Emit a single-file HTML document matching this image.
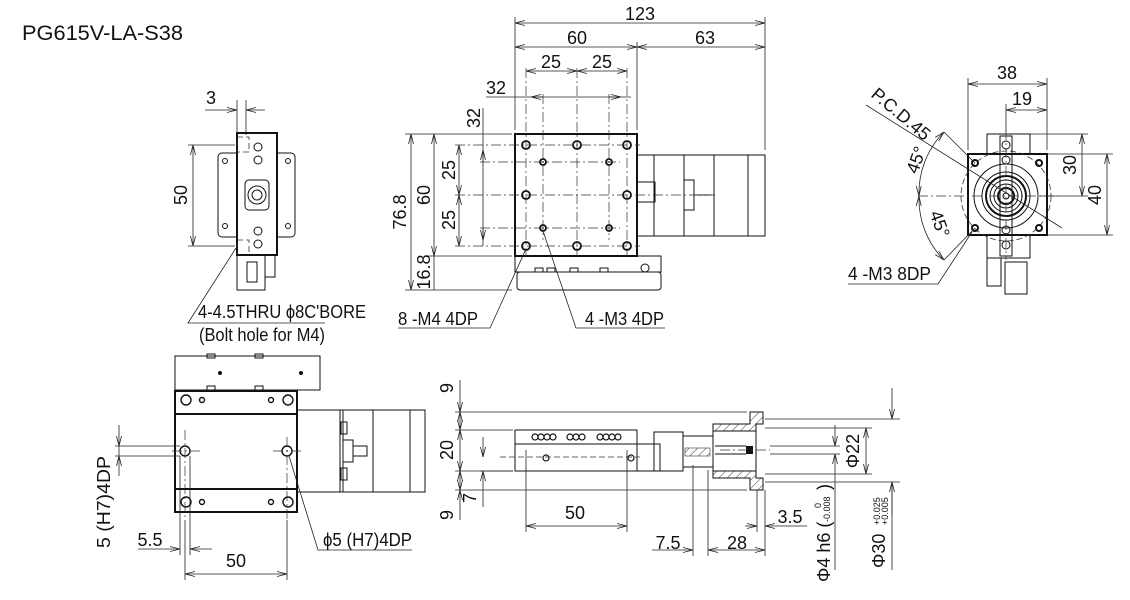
<!DOCTYPE html>
<html><head><meta charset="utf-8"><style>
html,body{margin:0;padding:0;background:#fff}
svg{display:block}
text{font-family:"Liberation Sans Narrow","Liberation Sans",sans-serif;font-size:18px;fill:#111}
.t{font-family:"Liberation Sans","DejaVu Sans",sans-serif;font-size:21px}
.k{stroke:#111;fill:none;stroke-width:1}
.b{stroke:#111;fill:none;stroke-width:2}
.d{stroke:#222;fill:none;stroke-width:.8}
.c{stroke:#333;fill:none;stroke-width:.7;stroke-dasharray:10 3 2 3}
.h{stroke:#333;fill:none;stroke-width:.8;stroke-dasharray:6 3}
</style></head><body>
<svg width="1130" height="600" viewBox="0 0 1130 600" xmlns="http://www.w3.org/2000/svg">
<defs>
<marker id="a" markerWidth="10" markerHeight="6" refX="10" refY="3" orient="auto-start-reverse" markerUnits="userSpaceOnUse"><path d="M0,0.5 L10,3 L0,5.5" fill="none" stroke="#222" stroke-width="0.8"/></marker>
<pattern id="hp" width="6" height="6" patternUnits="userSpaceOnUse" patternTransform="rotate(45)"><line x1="0" y1="0" x2="0" y2="6" stroke="#333" stroke-width="1"/></pattern>
</defs>
<text class="t" x="22" y="40" textLength="161" lengthAdjust="spacingAndGlyphs">PG615V-LA-S38</text>

<!-- ===== TOP MAIN VIEW ===== -->
<rect x="515" y="134" width="122" height="122" class="b"/>
<rect x="637" y="155" width="128" height="81" class="k"/>
<line x1="654" y1="155" x2="654" y2="236" class="k"/>
<line x1="684" y1="155" x2="684" y2="236" class="k"/>
<line x1="714" y1="155" x2="714" y2="236" class="k"/>
<line x1="748" y1="155" x2="748" y2="236" class="k"/>
<rect x="637" y="182" width="18" height="20" class="k"/>
<rect x="684" y="180" width="10" height="30" class="k"/>
<line x1="694" y1="195" x2="712" y2="195" class="k"/>
<rect x="515" y="256" width="146" height="16" class="k"/>
<rect x="517" y="272" width="144" height="18" rx="3" class="k"/>
<rect x="535" y="268" width="8" height="4" class="k"/><rect x="547" y="268" width="8" height="4" class="k"/><rect x="570" y="268" width="8" height="4" class="k"/><rect x="600" y="268" width="8" height="4" class="k"/>
<circle cx="645" cy="268" r="4" class="k"/>
<g fill="none" stroke="#111" stroke-width="1.8">
<circle cx="526" cy="145" r="4"/><circle cx="577" cy="145" r="4"/><circle cx="627" cy="145" r="4"/>
<circle cx="526" cy="195" r="4"/><circle cx="627" cy="195" r="4"/>
<circle cx="526" cy="246" r="4"/><circle cx="577" cy="246" r="4"/><circle cx="627" cy="246" r="4"/>
<circle cx="543" cy="162" r="3"/><circle cx="609" cy="162" r="3"/><circle cx="543" cy="228" r="3"/><circle cx="609" cy="228" r="3"/>
</g>
<g class="c">
<line x1="526" y1="68" x2="526" y2="256"/><line x1="577" y1="68" x2="577" y2="256"/><line x1="627" y1="68" x2="627" y2="256"/>
<line x1="543" y1="94" x2="543" y2="240"/><line x1="609" y1="94" x2="609" y2="240"/>
<line x1="455" y1="145" x2="640" y2="145"/><line x1="455" y1="195" x2="715" y2="195"/><line x1="455" y1="246" x2="640" y2="246"/>
<line x1="480" y1="162" x2="620" y2="162"/><line x1="480" y1="228" x2="620" y2="228"/>
</g>
<g class="d">
<line x1="515" y1="17" x2="515" y2="130"/><line x1="765" y1="17" x2="765" y2="150"/><line x1="637" y1="42" x2="637" y2="130"/>
<line x1="515" y1="23" x2="765" y2="23" marker-start="url(#a)" marker-end="url(#a)"/>
<line x1="515" y1="47" x2="637" y2="47" marker-start="url(#a)" marker-end="url(#a)"/>
<line x1="637" y1="47" x2="765" y2="47" marker-start="url(#a)" marker-end="url(#a)"/>
<line x1="526" y1="71" x2="577" y2="71" marker-start="url(#a)" marker-end="url(#a)"/>
<line x1="577" y1="71" x2="627" y2="71" marker-start="url(#a)" marker-end="url(#a)"/>
<line x1="486" y1="97" x2="631" y2="97"/>
<line x1="543" y1="97" x2="531" y2="97" marker-end="url(#a)"/>
<line x1="609" y1="97" x2="621" y2="97" marker-end="url(#a)"/>
<line x1="405" y1="134" x2="512" y2="134"/><line x1="405" y1="290" x2="512" y2="290"/><line x1="428" y1="256" x2="512" y2="256"/>
<line x1="411" y1="134" x2="411" y2="290" marker-start="url(#a)" marker-end="url(#a)"/>
<line x1="434" y1="134" x2="434" y2="256" marker-start="url(#a)" marker-end="url(#a)"/>
<line x1="434" y1="256" x2="434" y2="290"/>
<line x1="459" y1="145" x2="459" y2="195" marker-start="url(#a)" marker-end="url(#a)"/>
<line x1="459" y1="195" x2="459" y2="246" marker-start="url(#a)" marker-end="url(#a)"/>
<line x1="483" y1="108" x2="483" y2="246"/>
<line x1="483" y1="162" x2="483" y2="150" marker-end="url(#a)"/>
<line x1="483" y1="228" x2="483" y2="240" marker-end="url(#a)"/>
<polyline points="526,249 490,328 398,328"/>
<polyline points="543,231 576,328 665,328"/>
</g>
<text x="640" y="20" text-anchor="middle">123</text>
<text x="577" y="44" text-anchor="middle">60</text>
<text x="705" y="44" text-anchor="middle">63</text>
<text x="551" y="68" text-anchor="middle">25</text>
<text x="602" y="68" text-anchor="middle">25</text>
<text x="496" y="94" text-anchor="middle">32</text>
<text transform="translate(480,118) rotate(-90)" text-anchor="middle">32</text>
<text transform="translate(406,212) rotate(-90)" text-anchor="middle">76.8</text>
<text transform="translate(430,195) rotate(-90)" text-anchor="middle">60</text>
<text transform="translate(455,170) rotate(-90)" text-anchor="middle">25</text>
<text transform="translate(455,220) rotate(-90)" text-anchor="middle">25</text>
<text transform="translate(430,272) rotate(-90)" text-anchor="middle">16.8</text>
<text x="398" y="325" textLength="80" lengthAdjust="spacingAndGlyphs">8 -M4 4DP</text>
<text x="585" y="325" textLength="79" lengthAdjust="spacingAndGlyphs">4 -M3 4DP</text>

<!-- ===== LEFT SIDE VIEW ===== -->
<rect x="218" y="153" width="77" height="84" rx="4" class="k"/>
<circle cx="225" cy="161" r="2.5" class="k"/><circle cx="288" cy="161" r="2.5" class="k"/><circle cx="225" cy="226" r="2.5" class="k"/><circle cx="288" cy="226" r="2.5" class="k"/>
<rect x="237" y="133" width="40" height="122" class="b" style="fill:#fff"/>
<rect x="245" y="180" width="24" height="30" rx="4" class="k"/>
<circle cx="257" cy="195" r="9" class="k"/><circle cx="257" cy="195" r="5" class="k"/>
<rect x="237" y="137" width="12" height="15" class="h"/><rect x="237" y="240" width="12" height="15" class="h"/>
<circle cx="258" cy="147" r="4" class="k"/><circle cx="258" cy="160" r="4" class="k"/><circle cx="258" cy="231" r="4" class="k"/><circle cx="258" cy="244" r="4" class="k"/>
<rect x="237" y="255" width="28" height="35" class="k"/><rect x="265" y="255" width="10" height="22" class="k"/>
<rect x="247" y="262" width="10" height="20" class="k"/>
<g class="d">
<line x1="237" y1="100" x2="237" y2="133"/><line x1="246" y1="100" x2="246" y2="135"/>
<line x1="205" y1="110" x2="237" y2="110" marker-end="url(#a)"/>
<line x1="265" y1="110" x2="246" y2="110" marker-end="url(#a)"/>
<line x1="188" y1="145" x2="235" y2="145"/><line x1="188" y1="246" x2="235" y2="246"/>
<line x1="193" y1="145" x2="193" y2="246" marker-start="url(#a)" marker-end="url(#a)"/>
<polyline points="236,248 188,323 325,323"/>
</g>
<text x="211" y="104" text-anchor="middle">3</text>
<text transform="translate(187,195) rotate(-90)" text-anchor="middle">50</text>
<text x="198" y="318" textLength="168" lengthAdjust="spacingAndGlyphs">4-4.5THRU ϕ8C'BORE</text>
<text x="199" y="341" textLength="126" lengthAdjust="spacingAndGlyphs">(Bolt hole for M4)</text>

<!-- ===== RIGHT END VIEW ===== -->
<rect x="987" y="134" width="43" height="124" class="k"/>
<rect x="968" y="154" width="79" height="81" class="b" style="fill:#fff"/>
<circle cx="1006" cy="196" r="45" class="h"/>
<circle cx="1006" cy="196" r="32" class="k"/>
<circle cx="1006" cy="196" r="24" class="k"/>
<circle cx="1006" cy="196" r="20" class="b"/>
<circle cx="1006" cy="196" r="16" class="k"/><circle cx="1006" cy="196" r="12" class="k"/><circle cx="1006" cy="196" r="8" class="b"/><circle cx="1006" cy="196" r="3" class="k"/>
<rect x="1000" y="136" width="12" height="120" class="k" style="fill:none"/>
<circle cx="1006" cy="145" r="4" class="k"/><circle cx="1006" cy="160" r="4" class="k"/><circle cx="1006" cy="230" r="4" class="k"/><circle cx="1006" cy="245" r="4" class="k"/>
<circle cx="975" cy="163" r="3" class="b"/><circle cx="1039" cy="163" r="3" class="b"/><circle cx="975" cy="228" r="3" class="b"/><circle cx="1039" cy="228" r="3" class="b"/>
<rect x="987" y="258" width="14" height="28" class="k"/><rect x="1005" y="262" width="22" height="32" class="k"/>
<g class="c"><line x1="918" y1="196" x2="1058" y2="196"/><line x1="1006" y1="130" x2="1006" y2="260"/></g>
<g class="d">
<line x1="968" y1="78" x2="968" y2="150"/><line x1="1047" y1="78" x2="1047" y2="150"/><line x1="1006" y1="104" x2="1006" y2="132"/>
<line x1="968" y1="84" x2="1047" y2="84" marker-start="url(#a)" marker-end="url(#a)"/>
<line x1="1006" y1="110" x2="1047" y2="110" marker-start="url(#a)" marker-end="url(#a)"/>
<line x1="1030" y1="134" x2="1088" y2="134"/><line x1="1040" y1="196" x2="1088" y2="196"/>
<line x1="1047" y1="154" x2="1113" y2="154"/><line x1="1047" y1="235" x2="1113" y2="235"/>
<line x1="1082" y1="134" x2="1082" y2="196" marker-start="url(#a)" marker-end="url(#a)"/>
<line x1="1107" y1="154" x2="1107" y2="235" marker-start="url(#a)" marker-end="url(#a)"/>
<line x1="866" y1="105" x2="1062" y2="228"/>
<path d="M944,132 A87,87 0 0,0 919,196" marker-start="url(#a)" marker-end="url(#a)"/>
<path d="M919,196 A87,87 0 0,0 944,260" marker-start="url(#a)" marker-end="url(#a)"/>
<line x1="944" y1="132" x2="975" y2="163"/><line x1="944" y1="260" x2="975" y2="228"/>
<polyline points="972,232 938,284 848,284"/>
</g>
<text x="1007" y="79" text-anchor="middle">38</text>
<text x="1022" y="105" text-anchor="middle">19</text>
<text transform="translate(1076,165) rotate(-90)" text-anchor="middle">30</text>
<text transform="translate(1101,195) rotate(-90)" text-anchor="middle">40</text>
<text transform="translate(870,96) rotate(40)">P.C.D.45</text>
<text transform="translate(922,162) rotate(-70)" text-anchor="middle">45°</text>
<text transform="translate(934,226) rotate(70)" text-anchor="middle">45°</text>
<text x="848" y="280" textLength="83" lengthAdjust="spacingAndGlyphs">4 -M3 8DP</text>

<!-- ===== BOTTOM LEFT VIEW ===== -->
<rect x="175" y="356" width="145" height="34" class="k"/>
<rect x="207" y="354" width="8" height="4" class="k"/><rect x="255" y="354" width="8" height="4" class="k"/><rect x="207" y="386" width="8" height="4" class="k"/><rect x="255" y="386" width="8" height="4" class="k"/>
<circle cx="220" cy="373" r="2" fill="#111"/><circle cx="301" cy="373" r="2" fill="#111"/>
<rect x="297" y="410" width="128" height="82" class="k"/>
<line x1="340" y1="410" x2="340" y2="492" class="k"/><line x1="343" y1="410" x2="343" y2="492" class="k"/>
<line x1="373" y1="410" x2="373" y2="492" class="k"/><line x1="410" y1="410" x2="410" y2="492" class="k"/>
<rect x="341" y="422" width="6" height="12" class="k"/><rect x="341" y="468" width="6" height="12" class="k"/>
<rect x="343" y="440" width="10" height="22" class="k"/><rect x="353" y="446" width="14" height="10" class="k"/>
<rect x="175" y="391" width="122" height="121" class="b"/>
<line x1="175" y1="414" x2="297" y2="414" class="b"/><line x1="175" y1="489" x2="297" y2="489" class="b"/>
<g fill="none" stroke="#111" stroke-width="1.4">
<circle cx="186" cy="400" r="5"/><circle cx="288" cy="400" r="5"/><circle cx="186" cy="502" r="5"/><circle cx="288" cy="502" r="5"/>
<circle cx="202" cy="400" r="2.5"/><circle cx="271" cy="400" r="2.5"/><circle cx="202" cy="502" r="2.5"/><circle cx="271" cy="502" r="2.5"/>
<circle cx="185" cy="451" r="5"/><circle cx="287" cy="451" r="5"/>
</g>
<g class="c"><line x1="172" y1="451" x2="200" y2="451"/><line x1="273" y1="451" x2="302" y2="451"/><line x1="185" y1="430" x2="185" y2="520"/><line x1="287" y1="437" x2="287" y2="520"/></g>
<g class="d">
<line x1="115" y1="446" x2="180" y2="446"/><line x1="115" y1="456" x2="180" y2="456"/>
<line x1="119" y1="425" x2="119" y2="446" marker-end="url(#a)"/>
<line x1="119" y1="476" x2="119" y2="456" marker-end="url(#a)"/>
<line x1="119" y1="446" x2="119" y2="456"/>
<line x1="180" y1="456" x2="180" y2="555"/><line x1="190" y1="456" x2="190" y2="555"/>
<line x1="138" y1="549" x2="180" y2="549" marker-end="url(#a)"/>
<line x1="212" y1="549" x2="190" y2="549" marker-end="url(#a)"/>
<line x1="185" y1="520" x2="185" y2="580"/><line x1="287" y1="520" x2="287" y2="580"/>
<line x1="185" y1="574" x2="287" y2="574" marker-start="url(#a)" marker-end="url(#a)"/>
<polyline points="289,456 318,550 412,550"/>
</g>
<text transform="translate(110,502) rotate(-90)" text-anchor="middle" textLength="92" lengthAdjust="spacingAndGlyphs">5 (H7)4DP</text>
<text x="150" y="546" text-anchor="middle">5.5</text>
<text x="236" y="567" text-anchor="middle">50</text>
<text x="323" y="546" textLength="89" lengthAdjust="spacingAndGlyphs">ϕ5 (H7)4DP</text>

<!-- ===== BOTTOM MIDDLE VIEW ===== -->
<rect x="515" y="430" width="122" height="41" class="k"/>
<line x1="515" y1="444" x2="660" y2="444" class="k"/>
<rect x="637" y="444" width="23" height="27" class="k"/>
<rect x="654" y="432" width="29" height="39" class="k"/>
<g fill="none" stroke="#111" stroke-width="1.2">
<circle cx="535" cy="437" r="3"/><circle cx="541" cy="437" r="3"/><circle cx="547" cy="437" r="3"/><circle cx="553" cy="437" r="3"/>
<circle cx="570" cy="437" r="3"/><circle cx="576" cy="437" r="3"/><circle cx="582" cy="437" r="3"/>
<circle cx="600" cy="437" r="3"/><circle cx="606" cy="437" r="3"/><circle cx="612" cy="437" r="3"/><circle cx="618" cy="437" r="3"/>
<circle cx="546" cy="458" r="3"/><circle cx="631" cy="458" r="3"/>
</g>
<line x1="500" y1="457" x2="640" y2="457" class="h"/>
<rect x="683" y="436" width="30" height="31" class="k"/>
<rect x="685" y="448" width="25" height="8" fill="url(#hp)" stroke="#333" stroke-width=".6"/>
<path d="M750,412 H763 V424 H756 V478 H763 V490 H750 V478 H713 V424 H750 Z" fill="url(#hp)" stroke="#111" stroke-width="1"/>
<rect x="713" y="431" width="43" height="40" fill="#fff" stroke="#111" stroke-width="1"/>
<rect x="746" y="446" width="7" height="8" fill="#111"/>
<line x1="715" y1="446" x2="746" y2="446" class="k"/><line x1="715" y1="454" x2="746" y2="454" class="k"/>
<line x1="720" y1="450" x2="770" y2="450" class="c"/>
<g class="d">
<line x1="455" y1="412" x2="747" y2="412"/><line x1="455" y1="430" x2="513" y2="430"/><line x1="455" y1="471" x2="513" y2="471"/><line x1="455" y1="490" x2="747" y2="490"/>
<line x1="460" y1="380" x2="460" y2="412" marker-end="url(#a)"/>
<line x1="460" y1="412" x2="460" y2="430" marker-start="url(#a)" marker-end="url(#a)"/>
<line x1="460" y1="430" x2="460" y2="471" marker-start="url(#a)" marker-end="url(#a)"/>
<line x1="460" y1="471" x2="460" y2="490" marker-start="url(#a)" marker-end="url(#a)"/>
<line x1="460" y1="520" x2="460" y2="490" marker-end="url(#a)"/>
<line x1="483" y1="437" x2="483" y2="457" marker-end="url(#a)"/>
<line x1="483" y1="507" x2="483" y2="471" marker-end="url(#a)"/>
<line x1="480" y1="471" x2="513" y2="471"/>
<line x1="526" y1="450" x2="526" y2="532"/><line x1="627" y1="450" x2="627" y2="532"/>
<line x1="526" y1="526" x2="627" y2="526" marker-start="url(#a)" marker-end="url(#a)"/>
<line x1="693" y1="465" x2="693" y2="556"/><line x1="708" y1="470" x2="708" y2="556"/><line x1="765" y1="490" x2="765" y2="556"/><line x1="757" y1="490" x2="757" y2="532"/>
<line x1="652" y1="550" x2="693" y2="550" marker-end="url(#a)"/>
<line x1="708" y1="550" x2="765" y2="550" marker-start="url(#a)" marker-end="url(#a)"/>
<line x1="745" y1="526" x2="757" y2="526" marker-end="url(#a)"/>
<line x1="807" y1="526" x2="765" y2="526" marker-end="url(#a)"/>
<line x1="765" y1="419" x2="900" y2="419"/><line x1="765" y1="482" x2="900" y2="482"/>
<line x1="765" y1="428" x2="872" y2="428"/><line x1="765" y1="474" x2="872" y2="474"/>
<line x1="770" y1="446" x2="840" y2="446"/><line x1="770" y1="454" x2="840" y2="454"/>
<line x1="835" y1="425" x2="835" y2="446" marker-end="url(#a)"/>
<line x1="835" y1="475" x2="835" y2="454" marker-end="url(#a)"/>
<line x1="835" y1="475" x2="835" y2="570"/>
<line x1="866" y1="428" x2="866" y2="474" marker-start="url(#a)" marker-end="url(#a)"/>
<line x1="892" y1="388" x2="892" y2="419" marker-end="url(#a)"/>
<line x1="892" y1="515" x2="892" y2="482" marker-end="url(#a)"/>
<line x1="892" y1="482" x2="892" y2="570"/>
</g>
<text transform="translate(453,388) rotate(-90)" text-anchor="middle">9</text>
<text transform="translate(453,450) rotate(-90)" text-anchor="middle">20</text>
<text transform="translate(453,515) rotate(-90)" text-anchor="middle">9</text>
<text transform="translate(476,498) rotate(-90)" text-anchor="middle">7</text>
<text x="575" y="519" text-anchor="middle">50</text>
<text x="668" y="549" text-anchor="middle">7.5</text>
<text x="737" y="549" text-anchor="middle">28</text>
<text x="790" y="523" text-anchor="middle">3.5</text>
<text transform="translate(859,451) rotate(-90)" text-anchor="middle">Φ22</text>
<text transform="translate(830,582) rotate(-90)">Φ4 h6 (</text>
<text transform="translate(830,522) rotate(-90)" style="font-size:9px">-0.008</text>
<text transform="translate(821,508) rotate(-90)" style="font-size:9px">0</text>
<text transform="translate(830,490) rotate(-90)">)</text>
<text transform="translate(885,568) rotate(-90)">Φ30</text>
<text transform="translate(880,525) rotate(-90)" style="font-size:9px">+0.025</text>
<text transform="translate(888,525) rotate(-90)" style="font-size:9px">+0.005</text>
</svg>
</body></html>
